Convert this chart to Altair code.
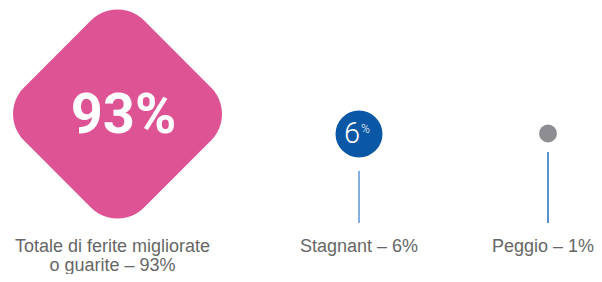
import math
import altair as alt
import pandas as pd

# ---- data ----
categorie = ["Migliorate o guarite", "Stagnant", "Peggio"]
valori = [93, 6, 1]
etichette = ["Totale di ferite migliorate\no guarite – 93%", "Stagnant – 6%", "Peggio – 1%"]

df = pd.DataFrame({
    "idx": list(range(len(categorie))),
    "categoria": categorie,
    "valore": valori,
    "etichetta": etichette,
})

# ---- style / layout ----
PINK = "#DD5394"
BLUE = "#0A57A6"
GREY = "#8E8E92"
TEXT = "#666666"
X_RANGE = [109.5, 351, 540]


def rounded_diamond(r=0.36, steps=12):
    d = 1 - r
    centers = [(0, -d, -135), (d, 0, -45), (0, d, 45), (-d, 0, 135)]
    pts = []
    for cx, cy, start in centers:
        for k in range(steps + 1):
            a = math.radians(start + 90 * k / steps)
            pts.append((cx + r * math.cos(a), cy + r * math.sin(a)))
    return "M" + " L".join(f"{x:.4f},{y:.4f}" for x, y in pts) + " Z"


xenc = alt.X("idx:Q", scale=alt.Scale(domain=[0, 1, 2], range=X_RANGE), axis=None)
base = alt.Chart(df).encode(x=xenc)

first = base.transform_filter(alt.datum.idx == 0)
second = base.transform_filter(alt.datum.idx == 1)
third = base.transform_filter(alt.datum.idx == 2)

diamond = first.mark_point(
    shape=rounded_diamond(), filled=True, size=209 * 209, color=PINK, opacity=1, strokeWidth=0
).encode(y=alt.value(106))

big_num = first.transform_calculate(t="datum.valore + '%'").mark_text(
    font="Roboto", fontWeight="bold", fontSize=56, color="white",
    align="center", baseline="alphabetic", dx=6
).encode(y=alt.value(125), text="t:N")

blue_dot = second.mark_point(
    shape="circle", filled=True, size=47 * 47, color=BLUE, opacity=1, strokeWidth=0
).encode(y=alt.value(126))

six = second.mark_text(
    font="Roboto", fontWeight=300, fontSize=29, color="white",
    align="right", baseline="alphabetic", dx=1
).encode(y=alt.value(135), text="valore:N")

pct = second.mark_text(
    text="%", font="Roboto", fontWeight=300, fontSize=12, color="white",
    align="left", baseline="alphabetic", dx=2
).encode(y=alt.value(125))

blue_line = second.mark_rule(color="#5C95D6", strokeWidth=1.5).encode(
    y=alt.value(163), y2=alt.value(215)
)

grey_dot = third.mark_point(
    shape="circle", filled=True, size=18 * 18, color=GREY, opacity=1, strokeWidth=0
).encode(y=alt.value(125.5))

grey_line = third.mark_rule(color="#1E6EC8", strokeWidth=1.5).encode(
    y=alt.value(144), y2=alt.value(215)
)

LBL = dict(font="Liberation Sans", fontSize=18, color=TEXT, align="center",
           baseline="alphabetic")
labels = alt.layer(
    first.mark_text(lineBreak="\n", lineHeight=19, dx=-5, **LBL)
    .encode(y=alt.value(244), text="etichetta:N"),
    second.mark_text(**LBL).encode(y=alt.value(244), text="etichetta:N"),
    third.mark_text(dx=-5, **LBL).encode(y=alt.value(244), text="etichetta:N"),
)

chart = alt.layer(
    diamond, big_num, blue_line, blue_dot, six, pct, grey_line, grey_dot, labels
).properties(
    width=586, height=266, padding=0, autosize=alt.AutoSizeParams(type="none")
).configure_view(stroke=None)

chart.save("out.html", embed_options={"renderer": "svg", "actions": False})
